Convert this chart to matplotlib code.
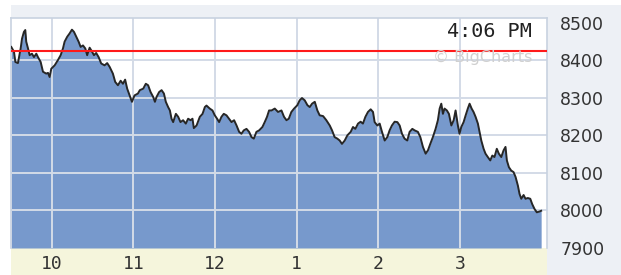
import matplotlib
matplotlib.use("Agg")
import matplotlib.pyplot as plt
import matplotlib.patches as mpatches

# minutes after 9:30 open, index level
minutes = [0.2, 2.2, 3.2, 5.1, 6.4, 7.1, 8.1, 9.5, 10.5, 11.2, 12.5, 13.7, 15.4, 16.9,
           18.6, 19.8, 21.8, 23.5, 25.9, 27.2, 28.4, 29.6, 32.1, 34.5, 36.5, 38.2,
           39.4, 41.3, 43.1, 44.8, 46.3, 48.0, 49.7, 51.2, 52.9, 54.6, 56.0, 57.8,
           59.0, 61.0, 62.6, 64.4, 66.3, 68.8, 70.7, 72.5, 74.9, 76.6, 78.6, 80.6,
           82.3, 83.9, 85.4, 87.2, 88.9, 90.8, 93.3, 94.7, 97.2, 99.1, 100.8, 102.6,
           104.5, 105.8, 107.0, 108.9, 110.7, 112.4, 113.8, 115.5, 116.8, 118.0,
           119.2, 121.2, 122.9, 124.6, 126.5, 128.5, 130.2, 132.0, 133.4, 134.4,
           136.4, 138.8, 140.8, 142.5, 143.7, 146.1, 148.1, 149.8, 151.5, 153.0,
           154.7, 156.4, 158.4, 160.3, 162.1, 164.0, 165.8, 167.7, 169.4, 171.1,
           173.1, 175.0, 176.8, 178.5, 180.4, 182.4, 184.8, 186.5, 188.2, 189.7,
           191.5, 193.9, 196.3, 198.8, 200.7, 202.5, 204.2, 206.1, 208.1, 210.5,
           212.2, 213.9, 215.9, 217.9, 219.6, 221.3, 223.3, 225.2, 226.9, 229.4,
           231.8, 234.3, 236.0, 237.9, 239.9, 241.6, 243.3, 245.3, 247.3, 249.7,
           251.4, 253.1, 255.1, 257.0, 258.7, 260.5, 262.4, 264.4, 266.1, 267.3,
           269.3, 271.0, 272.7, 274.7, 276.6, 278.3, 280.0, 282.0, 284.0, 285.7,
           287.4, 289.3, 291.3, 293.0, 295.0, 296.7, 299.1, 300.9, 302.8, 304.8,
           306.5, 308.2, 310.1, 312.1, 313.8, 315.1, 316.3, 317.5, 318.7, 320.4,
           321.9, 323.7, 325.4, 326.8, 328.5, 329.7, 331.0, 332.7, 334.2, 335.8,
           337.1, 338.6, 340.0, 341.5, 343.2, 344.4, 345.7, 347.4, 348.8, 350.5,
           352.3, 353.8, 355.4, 357.1, 358.6, 360.4, 362.1, 363.5, 364.5, 366.0,
           367.7, 369.4, 370.9, 372.6, 373.8, 375.1, 376.8, 378.2, 379.9, 381.7,
           383.1, 384.8, 386.5, 388.5, 389.7]
index_level = [8435, 8422, 8395, 8392, 8417, 8431, 8457, 8475, 8480, 8449, 8431, 8413,
               8417, 8408, 8417, 8408, 8395, 8369, 8364, 8366, 8355, 8377, 8386, 8400,
               8413, 8431, 8449, 8462, 8471, 8481, 8475, 8462, 8449, 8435, 8439, 8431,
               8413, 8433, 8426, 8413, 8419, 8408, 8391, 8386, 8392, 8382, 8364, 8342,
               8333, 8345, 8337, 8348, 8324, 8306, 8289, 8306, 8311, 8320, 8324, 8337,
               8333, 8315, 8302, 8289, 8302, 8315, 8320, 8311, 8289, 8275, 8266, 8244,
               8235, 8257, 8249, 8235, 8240, 8231, 8244, 8240, 8244, 8219, 8226, 8249,
               8257, 8275, 8279, 8271, 8266, 8253, 8244, 8235, 8249, 8257, 8253, 8244,
               8235, 8240, 8226, 8209, 8204, 8213, 8217, 8209, 8195, 8191, 8209, 8213,
               8222, 8235, 8249, 8266, 8266, 8271, 8262, 8266, 8249, 8240, 8244, 8262,
               8271, 8280, 8293, 8299, 8293, 8280, 8275, 8284, 8289, 8266, 8253, 8251,
               8240, 8226, 8213, 8195, 8191, 8186, 8177, 8186, 8200, 8209, 8222, 8217,
               8231, 8236, 8231, 8249, 8262, 8269, 8262, 8235, 8226, 8231, 8209, 8186,
               8195, 8213, 8226, 8236, 8235, 8226, 8204, 8191, 8186, 8209, 8217, 8213,
               8209, 8195, 8169, 8151, 8160, 8177, 8195, 8217, 8240, 8271, 8284, 8257,
               8271, 8266, 8257, 8226, 8240, 8266, 8226, 8204, 8222, 8235, 8253, 8271,
               8284, 8271, 8262, 8249, 8231, 8209, 8186, 8164, 8151, 8142, 8133, 8146,
               8142, 8164, 8151, 8142, 8160, 8169, 8133, 8115, 8106, 8102, 8089, 8066,
               8044, 8031, 8041, 8031, 8033, 8031, 8017, 8004, 7995, 7997, 7999]
prev_close = 8423
hour_ticks = [30, 90, 150, 210, 270, 330]
hour_labels = ["10", "11", "12", "1", "2", "3"]
level_ticks = [7900, 8000, 8100, 8200, 8300, 8400, 8500]
grid_levels = [8000, 8100, 8200, 8300, 8400]

W, H = 621, 275
fig = plt.figure(figsize=(W / 100, H / 100), dpi=100, facecolor="white")

# grey panel behind everything, beige strip under the plot
fig.patches.append(mpatches.Rectangle((11 / W, 0), 1 - 11 / W, 270 / H,
                                      transform=fig.transFigure, facecolor="#edf0f5",
                                      edgecolor="none", zorder=-2))
fig.patches.append(mpatches.Rectangle((11 / W, 0), 536 / W, 27 / H,
                                      transform=fig.transFigure, facecolor="#f5f5dc",
                                      edgecolor="none", zorder=-1))

ax = fig.add_axes([11 / W, 27 / H, 536 / W, 230 / H])
ax.set_zorder(1)
ax.set_facecolor("white")
ax.set_xlim(0, 394)
ax.set_ylim(7900, 8512)

ax.fill_between(minutes, index_level, 7900, color="#7799cc", lw=0, zorder=1)
for g in grid_levels:
    ax.axhline(g, color="#d3dbe7", lw=1.4, zorder=2)
for t in hour_ticks:
    ax.axvline(t, color="#d3dbe7", lw=1.4, zorder=2)
ax.plot(minutes, index_level, color="#262626", lw=1.4, zorder=3)
ax.axhline(prev_close, color="#ff1a1a", lw=1.5, zorder=4)

ax.set_xticks(hour_ticks)
ax.set_xticklabels(hour_labels, family="DejaVu Sans Mono", fontsize=13, color="#333333")
ax.set_yticks(level_ticks)
ax.set_yticklabels([str(v) for v in level_ticks], fontsize=12.5, color="#333333")
ax.yaxis.tick_right()
ax.tick_params(axis="y", length=0, pad=9.5)
ax.tick_params(axis="x", length=0, pad=5)

for side in ["top", "right", "left"]:
    ax.spines[side].set_color("#c8d2e0")
    ax.spines[side].set_linewidth(1.2)
ax.spines["bottom"].set_visible(False)

ax.text(0.972, 0.94, "4:06 PM", transform=ax.transAxes, ha="right", va="center",
        family="DejaVu Sans Mono", fontsize=14.5, color="#222222", zorder=5)
ax.text(0.972, 0.83, "\u00a9 BigCharts", transform=ax.transAxes, ha="right", va="center",
        fontsize=11.5, color="#d0d0d0", zorder=5)

fig.savefig("out.png", dpi=100, facecolor=fig.get_facecolor())
